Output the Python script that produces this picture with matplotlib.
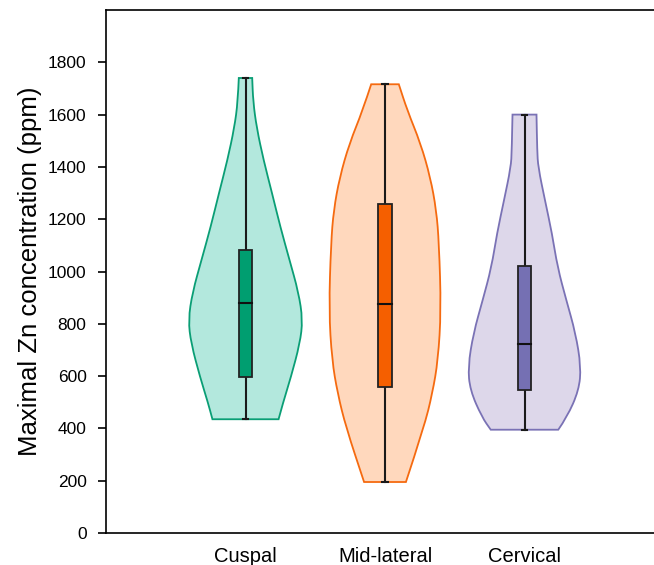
import matplotlib.pyplot as plt
from matplotlib.path import Path
from matplotlib.patches import PathPatch
import numpy as np

plt.rcParams['font.family'] = ['Liberation Sans', 'DejaVu Sans']

# groups and box statistics (ppm)
groups = ['Cuspal', 'Mid-lateral', 'Cervical']
whisker_lo = [435, 195, 395]
q1 = [595, 557, 545]
median = [878, 876, 721]
q3 = [1083, 1260, 1020]
whisker_hi = [1740, 1716, 1600]

# violin outlines: concentration levels and half widths
cuspal_y = [1740, 1650, 1550, 1425, 1300, 1170, 1045, 920, 815, 725, 595, 500, 435]
cuspal_w = [0.048, 0.055, 0.08, 0.13, 0.19, 0.25, 0.315, 0.38, 0.41, 0.39, 0.325, 0.27, 0.237]
midlat_y = [1716, 1616, 1490, 1360, 1234, 1108, 852, 661, 535, 405, 195]
midlat_w = [0.099, 0.16, 0.255, 0.325, 0.368, 0.387, 0.402, 0.38, 0.34, 0.28, 0.15]
cervical_y = [1600, 1463, 1399, 1272, 1146, 1016, 890, 764, 636, 546, 443, 395]
cervical_w = [0.086, 0.091, 0.098, 0.147, 0.197, 0.237, 0.30, 0.366, 0.405, 0.39, 0.305, 0.242]

violin_y = [cuspal_y, midlat_y, cervical_y]
violin_w = [cuspal_w, midlat_w, cervical_w]

fill_colors = ['#b3e8dd', '#ffd8bd', '#ddd7ea']
edge_colors = ['#0a9e75', '#f56a10', '#7a72b5']
box_colors = ['#009e70', '#f55f00', '#7570b3']


def smooth_side(xs, ys):
    # quadratic bezier pieces through the midpoints, drawn by matplotlib
    verts = [(xs[0], ys[0])]
    codes = [Path.LINETO]
    for k in range(1, len(xs) - 1):
        verts += [(xs[k], ys[k]), ((xs[k] + xs[k + 1]) / 2, (ys[k] + ys[k + 1]) / 2)]
        codes += [Path.CURVE3, Path.CURVE3]
    verts.append((xs[-1], ys[-1]))
    codes.append(Path.LINETO)
    return verts, codes


fig = plt.figure(figsize=(6.54, 5.65), dpi=100)
ax = fig.add_axes([106 / 654, 32 / 565, 558 / 654, 523 / 565])

for i in range(3):
    pos = i + 1
    y = np.array(violin_y[i], dtype=float)
    w = np.array(violin_w[i])
    lv, lc = smooth_side(pos - w, y)
    rv, rc = smooth_side((pos + w)[::-1], y[::-1])
    verts = lv + rv + [lv[0]]
    codes = [Path.MOVETO] + lc[1:] + rc + [Path.CLOSEPOLY]
    patch = PathPatch(Path(verts, codes), facecolor=fill_colors[i],
                      edgecolor=edge_colors[i], lw=1.3, zorder=1)
    ax.add_patch(patch)

    # whisker and caps
    ax.plot([pos, pos], [whisker_lo[i], whisker_hi[i]], color='#1a1a1a', lw=1.5, zorder=3)
    for v in (whisker_lo[i], whisker_hi[i]):
        ax.plot([pos - 0.02, pos + 0.02], [v, v], color='#1a1a1a', lw=1.5, zorder=3)

    # box
    ax.bar(pos, q3[i] - q1[i], bottom=q1[i], width=0.1, color=box_colors[i],
           edgecolor='#222222', linewidth=1.3, zorder=4)
    ax.plot([pos - 0.05, pos + 0.05], [median[i], median[i]], color='#111111', lw=1.5, zorder=5)

ax.set_xlim(0, 4)
ax.set_ylim(0, 2000)
ax.set_yticks(np.arange(0, 1801, 200))
ax.set_xticks([1, 2, 3])
ax.set_xticklabels(groups, fontsize=14.5)
ax.tick_params(axis='x', length=0, pad=10)
ax.tick_params(axis='y', labelsize=12.5, length=6, width=1.2, pad=8)
ax.spines['right'].set_visible(False)
for s in ['left', 'top', 'bottom']:
    ax.spines[s].set_linewidth(1.2)
ax.set_ylabel('Maximal Zn concentration (ppm)', fontsize=18.5, labelpad=4)

fig.savefig('out.png', dpi=100)
